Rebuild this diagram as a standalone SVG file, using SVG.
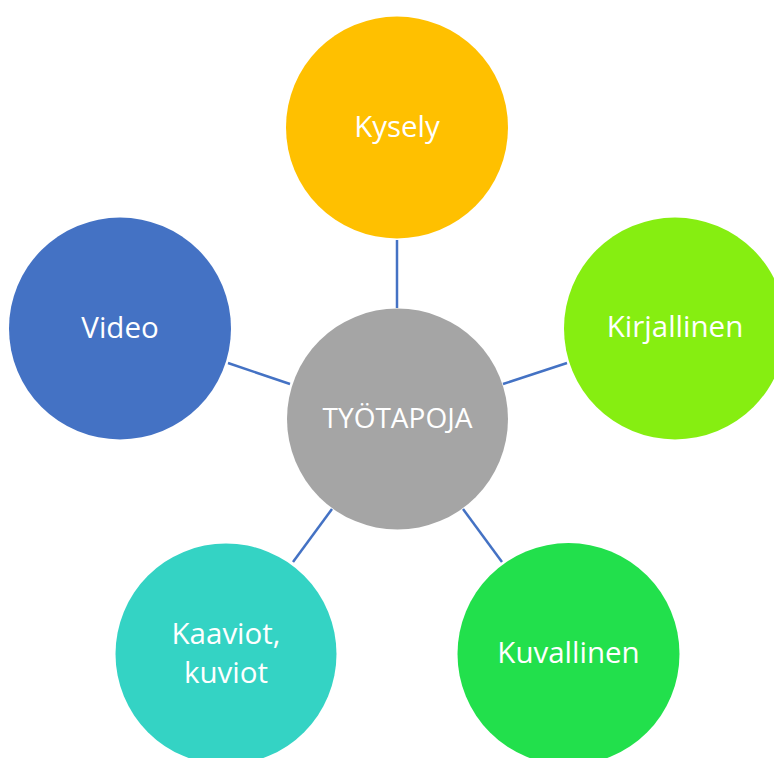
<svg xmlns="http://www.w3.org/2000/svg" width="774" height="758" viewBox="0 0 774 758">
<style>
.lbl{font-family:"Open Sans","Liberation Sans",sans-serif;font-size:29.5px;fill:#ffffff;text-anchor:middle}
.ctr{font-size:28px}
.conn line{stroke:#4472C4;stroke-width:2.5}
</style>
<rect width="774" height="758" fill="#ffffff"/>
<g id="connectors" class="conn">
<line x1="397" y1="240" x2="397" y2="308"/>
<line x1="503" y1="384" x2="567" y2="363"/>
<line x1="463" y1="509" x2="502" y2="562"/>
<line x1="332" y1="509" x2="293" y2="562"/>
<line x1="290" y1="384" x2="228" y2="363"/>
</g>
<g id="node-center">
<circle cx="397.5" cy="419" r="110.5" fill="#A5A5A5"/>
<text class="lbl ctr" x="397.5" y="428">TYÖTAPOJA</text>
</g>
<g id="node-kysely">
<circle cx="397" cy="127.5" r="111" fill="#FFC000"/>
<text class="lbl" x="397" y="137">Kysely</text>
</g>
<g id="node-kirjallinen">
<circle cx="675" cy="328.5" r="111" fill="#86EE11"/>
<text class="lbl" x="675" y="337">Kirjallinen</text>
</g>
<g id="node-kuvallinen">
<circle cx="568.5" cy="654" r="111" fill="#22E04C"/>
<text class="lbl" x="568.5" y="663">Kuvallinen</text>
</g>
<g id="node-kaaviot">
<circle cx="226" cy="654" r="110.5" fill="#34D3C4"/>
<text class="lbl" x="226" y="644">Kaaviot,</text>
<text class="lbl" x="226" y="683">kuviot</text>
</g>
<g id="node-video">
<circle cx="120" cy="328.5" r="111" fill="#4472C4"/>
<text class="lbl" x="120" y="338">Video</text>
</g>
</svg>
